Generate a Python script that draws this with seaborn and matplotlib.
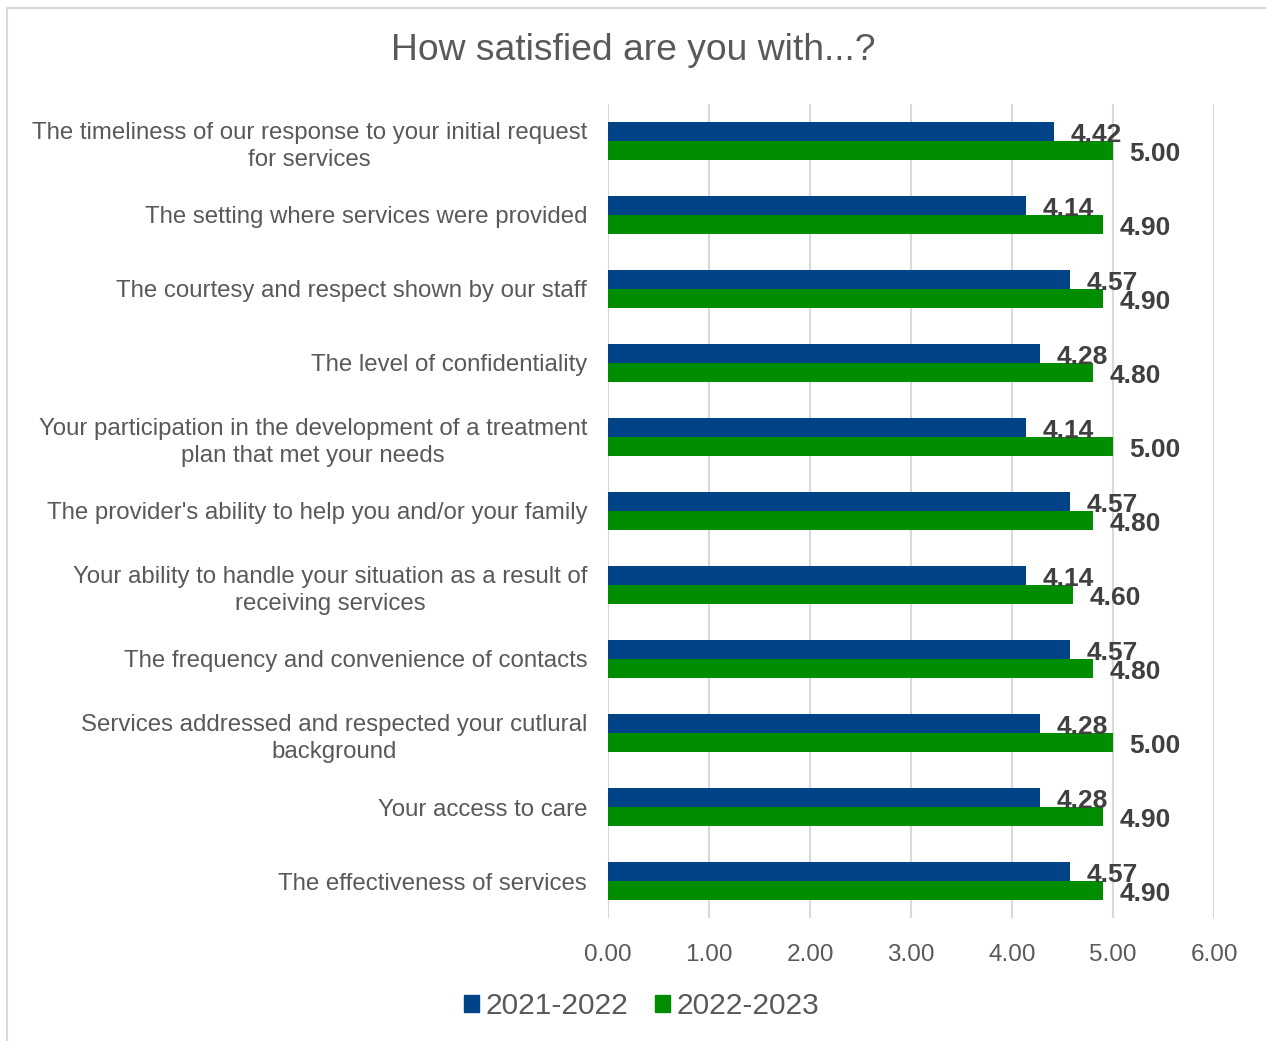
import matplotlib
matplotlib.use("Agg")
import matplotlib.pyplot as plt
from matplotlib.patches import Rectangle
import seaborn as sns
import pandas as pd

categories = [
    "The timeliness of our response to your initial request\nfor services",
    "The setting where services were provided",
    "The courtesy and respect shown by our staff",
    "The level of confidentiality",
    "Your participation in the development of a treatment\nplan that met your needs",
    "The provider's ability to help you and/or your family",
    "Your ability to handle your situation as a result of\nreceiving services",
    "The frequency and convenience of contacts",
    "Services addressed and respected your cutlural\nbackground",
    "Your access to care",
    "The effectiveness of services",
]
scores_2021_2022 = [4.42, 4.14, 4.57, 4.28, 4.14, 4.57, 4.14, 4.57, 4.28, 4.28, 4.57]
scores_2022_2023 = [5.00, 4.90, 4.90, 4.80, 5.00, 4.80, 4.60, 4.80, 5.00, 4.90, 4.90]
periods = ["2021-2022", "2022-2023"]
x_ticks = [0, 1, 2, 3, 4, 5, 6]

BLUE = "#004386"
GREEN = "#008E00"
TEXT = "#595959"
LABEL = "#404040"
GRID = "#D9D9D9"

df = pd.DataFrame({
    "question": categories * 2,
    "score": scores_2021_2022 + scores_2022_2023,
    "period": [periods[0]] * len(categories) + [periods[1]] * len(categories),
})

sns.set_theme(style="white")
plt.rcParams["font.family"] = ["Liberation Sans", "DejaVu Sans"]

W, H = 1266, 1041
fig = plt.figure(figsize=(W / 100, H / 100), dpi=100)
ax = fig.add_axes([608 / W, 1 - 918 / H, (1214 - 608) / W, (918 - 104) / H])

sns.barplot(
    data=df, y="question", x="score", hue="period", hue_order=periods,
    order=categories, orient="h", palette=[BLUE, GREEN], width=0.52,
    saturation=1, linewidth=0, ax=ax, legend=True,
)

ax.set_xlim(0, 6)
ax.set_ylim(len(categories) - 0.5, -0.5)
ax.set_xticks(x_ticks)
ax.set_xticklabels([f"{t:.2f}" for t in x_ticks])
ax.set_xlabel("")
ax.set_ylabel("")
ax.grid(axis="x", color=GRID, linewidth=1.5)
ax.grid(axis="y", visible=False)
ax.set_axisbelow(True)
for s in ax.spines.values():
    s.set_visible(False)
ax.tick_params(axis="x", length=0, pad=19, labelsize=17.5, labelcolor=TEXT)
ax.tick_params(axis="y", length=0, pad=15, labelsize=17.3, labelcolor=TEXT)
for lbl in ax.get_yticklabels():
    lbl.set_multialignment("center")
    lbl.set_linespacing(1.35)

# value labels next to each bar end
for container in ax.containers:
    texts = ax.bar_label(container, fmt="%.2f", padding=12, fontsize=19,
                         fontweight="bold", color=LABEL)
    for t in texts:
        t.xyann = (12, -2.5)

ax.get_legend().remove()
handles = [Rectangle((0, 0), 1, 1, color=c) for c in (BLUE, GREEN)]
fig.legend(handles, periods, loc="center", bbox_to_anchor=(642 / W, 1 - 1006 / H),
           ncol=2, frameon=False, fontsize=21.5, labelcolor=TEXT,
           handlelength=0.5, handleheight=0.5, handletextpad=0.22,
           columnspacing=0.9)

fig.text(0.5, 1 - 51 / H, "How satisfied are you with...?", ha="center",
         va="center", fontsize=26.8, color=TEXT)

fig.patches.append(Rectangle((7 / W, -0.05), 1.1, 1 - 8 / H + 0.05,
                             transform=fig.transFigure, fill=False,
                             edgecolor=GRID, linewidth=1.5, zorder=0))

fig.savefig("out.png", dpi=100)
